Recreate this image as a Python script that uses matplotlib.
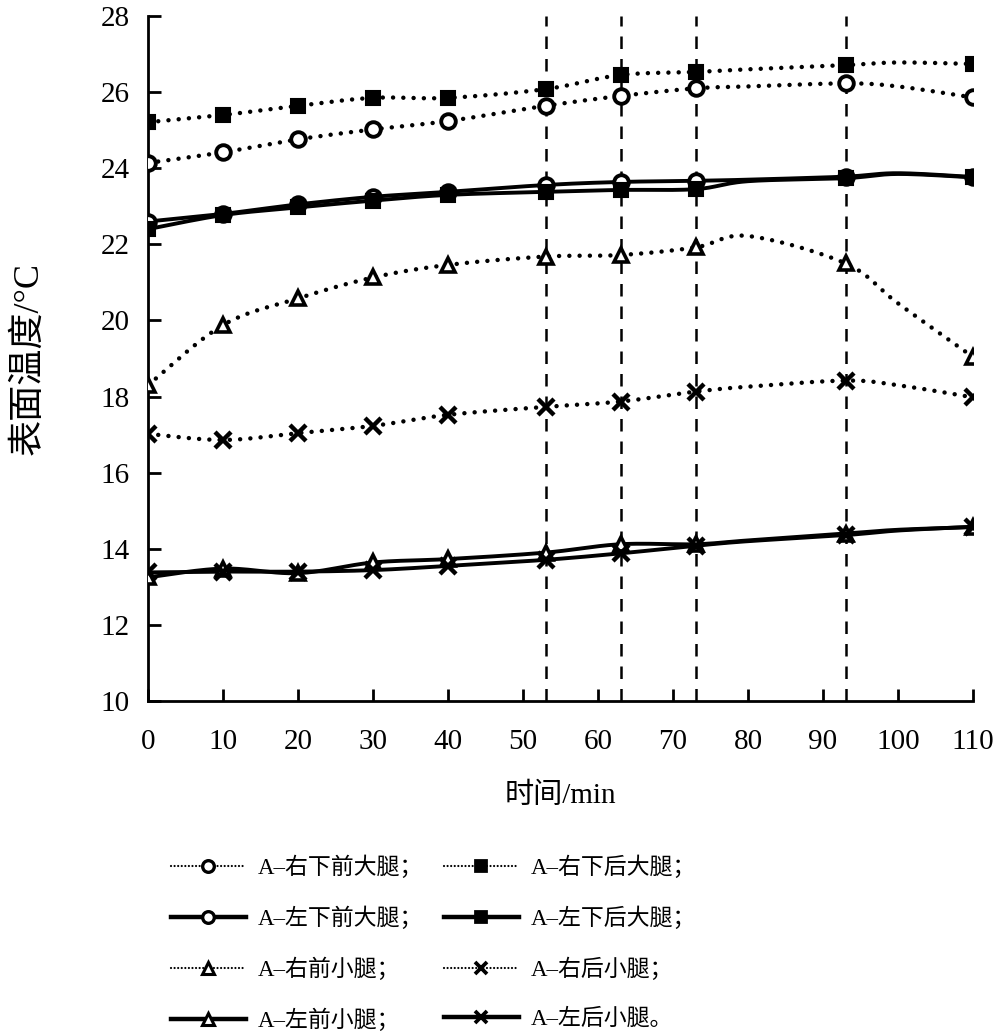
import numpy as np
import matplotlib
matplotlib.use("Agg")
import matplotlib.pyplot as plt
from matplotlib.lines import Line2D

plt.rcParams['font.family'] = ['Liberation Serif', 'Noto Sans CJK SC', 'DejaVu Sans']

# ---- data ----
times = [0, 10, 20, 30, 40, 53, 63, 73, 80, 93, 100, 110]
marker_idx = [0, 1, 2, 3, 4, 5, 6, 7, 9, 11]
vlines_x = [53, 63, 73, 93]

labels = ["A–右下前大腿；", "A–右下后大腿；", "A–左下前大腿；", "A–左下后大腿；",
          "A–右前小腿；", "A–右后小腿；", "A–左前小腿；", "A–左后小腿。"]

r_front_thigh = [24.14, 24.42, 24.76, 25.02, 25.24, 25.64, 25.90, 26.10, 26.15, 26.23, 26.15, 25.86]
r_back_thigh = [25.21, 25.40, 25.64, 25.85, 25.85, 26.08, 26.45, 26.53, 26.60, 26.71, 26.78, 26.74]
l_front_thigh = [22.60, 22.80, 23.05, 23.25, 23.38, 23.56, 23.64, 23.67, 23.70, 23.78, 23.87, 23.77]
l_back_thigh = [22.40, 22.77, 22.97, 23.15, 23.30, 23.38, 23.43, 23.45, 23.66, 23.74, 23.85, 23.76]
r_front_calf = [18.30, 19.88, 20.58, 21.13, 21.46, 21.68, 21.72, 21.92, 22.22, 21.50, 20.45, 19.04]
r_back_calf = [17.02, 16.86, 17.04, 17.23, 17.52, 17.73, 17.87, 18.13, 18.26, 18.42, 18.30, 17.98]
l_front_calf = [13.25, 13.48, 13.36, 13.64, 13.73, 13.90, 14.12, 14.12, 14.22, 14.40, 14.50, 14.57]
l_back_calf = [13.38, 13.40, 13.40, 13.44, 13.55, 13.71, 13.88, 14.08, 14.20, 14.36, 14.48, 14.58]

series = [r_front_thigh, r_back_thigh, l_front_thigh, l_back_thigh,
          r_front_calf, r_back_calf, l_front_calf, l_back_calf]
markers = ['o', 's', 'o', 's', '^', 'x', '^', 'x']
dotted = [True, True, False, False, True, True, False, False]


def smooth(x, y, n=24):
    P = np.column_stack([x, y]).astype(float)
    P = np.vstack([P[0], P, P[-1]])
    out = []
    t = np.linspace(0, 1, n, endpoint=False)[:, None]
    h00 = 2 * t**3 - 3 * t**2 + 1
    h10 = t**3 - 2 * t**2 + t
    h01 = -2 * t**3 + 3 * t**2
    h11 = t**3 - t**2
    for i in range(1, len(P) - 2):
        p0, p1, p2, p3 = P[i - 1], P[i], P[i + 1], P[i + 2]
        m1 = (p2 - p0) / 2
        m2 = (p3 - p1) / 2
        out.append(h00 * p1 + h10 * m1 + h01 * p2 + h11 * m2)
    out.append(P[-2][None, :])
    out = np.vstack(out)
    return out[:, 0], out[:, 1]


fig = plt.figure(figsize=(10, 10.35), dpi=100)
ax = fig.add_axes([0.148, 0.3227, 0.825, 0.6618])

DOT = (0, (0.01, 2.3))
for xv in vlines_x:
    ax.axvline(xv, color='black', lw=1.8, linestyle=(0, (5, 4)), zorder=1)

handles = []
for vals, mk, dot, lab in zip(series, markers, dotted, labels):
    sx, sy = smooth(times, vals)
    if dot:
        ax.plot(sx, sy, color='black', lw=3.2, linestyle=DOT,
                dash_capstyle='round', zorder=2)
    else:
        ax.plot(sx, sy, color='black', lw=2.8, zorder=2)
    mx = [times[i] for i in marker_idx]
    my = [vals[i] for i in marker_idx]
    if mk == 'x':
        ms, mew, fc = 11, 3.2, 'black'
    elif mk == 's':
        ms, mew, fc = 10.5, 1.5, 'black'
    elif mk == '^':
        ms, mew, fc = 10.5, 2.6, 'white'
    else:
        ms, mew, fc = 10.5, 2.8, 'white'
    ax.plot(mx, my, linestyle='none', marker=mk, markersize=ms,
            markeredgewidth=mew, markerfacecolor=fc, markeredgecolor='black',
            zorder=3)
    if dot:
        h = Line2D([], [], color='black', lw=1.6, linestyle=(0, (0.01, 1.6)),
                   dash_capstyle='round', marker=mk, markersize=ms * 0.8,
                   markeredgewidth=mew * 0.85, markerfacecolor=fc,
                   markeredgecolor='black', label=lab)
    else:
        h = Line2D([], [], color='black', lw=3.2, marker=mk,
                   markersize=ms * 0.8, markeredgewidth=mew * 0.85,
                   markerfacecolor=fc, markeredgecolor='black', label=lab)
    handles.append(h)

ax.set_xlim(0, 110)
ax.set_ylim(10, 28)
ax.set_xticks(np.arange(0, 111, 10))
ax.set_yticks(np.arange(10, 29, 2))
ax.spines['top'].set_visible(False)
ax.spines['right'].set_visible(False)
ax.spines['left'].set_linewidth(2)
ax.spines['bottom'].set_linewidth(2)
ax.tick_params(direction='in', length=9, width=2, labelsize=21)
ax.tick_params(axis='x', pad=20)
ax.tick_params(axis='y', pad=13)
ax.set_xlabel("时间/min", fontsize=21, labelpad=20)
ax.set_ylabel("表面温度/°C", fontsize=26, labelpad=40)

order = [0, 2, 4, 6, 1, 3, 5, 7]
fig.legend(handles=[handles[i] for i in order], loc='upper left',
           bbox_to_anchor=(0.150, 0.193),
           ncol=2, frameon=False, fontsize=16.5, handlelength=3.3,
           columnspacing=0.9, labelspacing=1.2, handletextpad=0.5)

fig.savefig("out.png", dpi=100)
